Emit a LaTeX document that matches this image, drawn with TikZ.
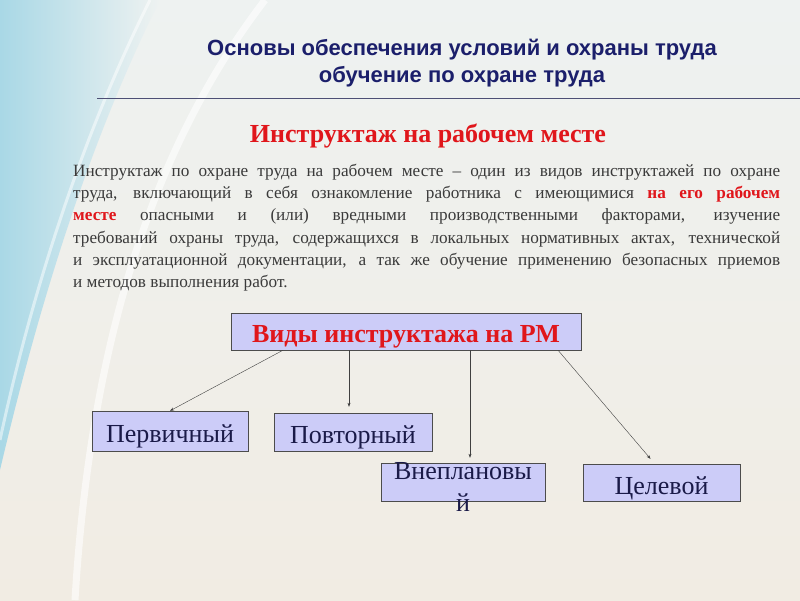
\documentclass[tikz,border=0pt]{standalone}
\usepackage{fontspec}
\setmainfont{Liberation Serif}
\setsansfont{Liberation Sans}
\usetikzlibrary{arrows.meta, positioning}

\definecolor{navy}{HTML}{1B1F6B}
\definecolor{slidered}{HTML}{E0161B}
\definecolor{boxfill}{HTML}{CCCCF8}
\definecolor{bodygray}{HTML}{3A3A3A}
\definecolor{inkblue}{HTML}{1A1A48}
\definecolor{paper}{HTML}{EEF2F1}
\definecolor{warm}{HTML}{F1ECE3}
\definecolor{sky}{HTML}{A9D8E6}

\begin{document}
\begin{tikzpicture} [x = 1pt, y = -1pt,
   kind/.style = {draw = gray!60!black, fill = boxfill, inner sep = 0pt,
                  text height = 23pt, text depth = 0pt,
                  font = \fontsize{26}{28}\selectfont, text = inkblue},
   link/.style = {-{Stealth[length = 4pt, width = 3pt]}, draw = black!75, thin}]
   \useasboundingbox (0,0) rectangle (800,600);

   % background
   \shade[top color = paper, bottom color = warm] (0,0) rectangle (800,600);
   \shade[left color = sky, right color = paper]
      (0,0) -- (160,0) .. controls (90,140) and (40,300) .. (0,470) -- cycle;
   \draw[white, line width = 7pt, opacity = .6] (265,0) .. controls (150,150) and (90,350) .. (75,600);
   \draw[white, line width = 3pt, opacity = .5] (150,0) .. controls (80,140) and (30,300) .. (0,440);

   % title
   \node (title)[font = \sffamily\bfseries\fontsize{22}{27}\selectfont, text = navy, align = center]
      at (462,63) {Основы обеспечения условий и охраны труда\\обучение по охране труда};
   \draw[navy!50!gray, thin] (97,98) -- (800,98);

   \node (head)[font = \bfseries\fontsize{26}{28}\selectfont, text = slidered] at (428,136)
      {Инструктаж на рабочем месте};

   \node (para)[anchor = north west, inner sep = 0pt, text width = 707pt, align = justify,
      font = \fontsize{17.2}{22.2}\selectfont, text = bodygray] at (73,164)
      {Инструктаж по охране труда на рабочем месте -- один из видов инструктажей по охране\linebreak
       труда, включающий в себя ознакомление работника с имеющимися {\bfseries\color{slidered}на его рабочем\linebreak
       месте} опасными и (или) вредными производственными факторами, изучение\linebreak
       требований охраны труда, содержащихся в локальных нормативных актах, технической\linebreak
       и эксплуатационной документации, а так же обучение применению безопасных приемов\linebreak
       и методов выполнения работ.};

   % kinds
   \node (root)[kind, font = \bfseries\fontsize{26}{28}\selectfont, text = slidered, text height = 21pt,
      minimum width = 350, minimum height = 37] at (406,331.5) {Виды инструктажа на РМ};
   \node (perv)[kind, minimum width = 156, minimum height = 40] at (170,431) {Первичный};
   \node (povt)[kind, minimum width = 158, minimum height = 38] at (353,432) {Повторный};
   \node (vnep)[kind, minimum width = 164, minimum height = 38] at (463,482) {};
   \node (vneptext)[font = \fontsize{26}{32}\selectfont, text = inkblue, align = center]
      at ([yshift = -5]vnep.center) {Внеплановы\\й};
   \node (cel)[kind, minimum width = 157, minimum height = 37] at (661.5,482.5) {Целевой};

   \draw[link] ([xshift = -123]root.south) -- (perv.north);
   \draw[link] ([xshift = -57]root.south) -- ([xshift = -4, yshift = 6]povt.north);
   \draw[link] ([xshift = 64]root.south) -- ([xshift = 7, yshift = 5]vnep.north);
   \draw[link] ([xshift = 152]root.south) -- ([xshift = -11, yshift = 5]cel.north);
\end{tikzpicture}
\end{document}
